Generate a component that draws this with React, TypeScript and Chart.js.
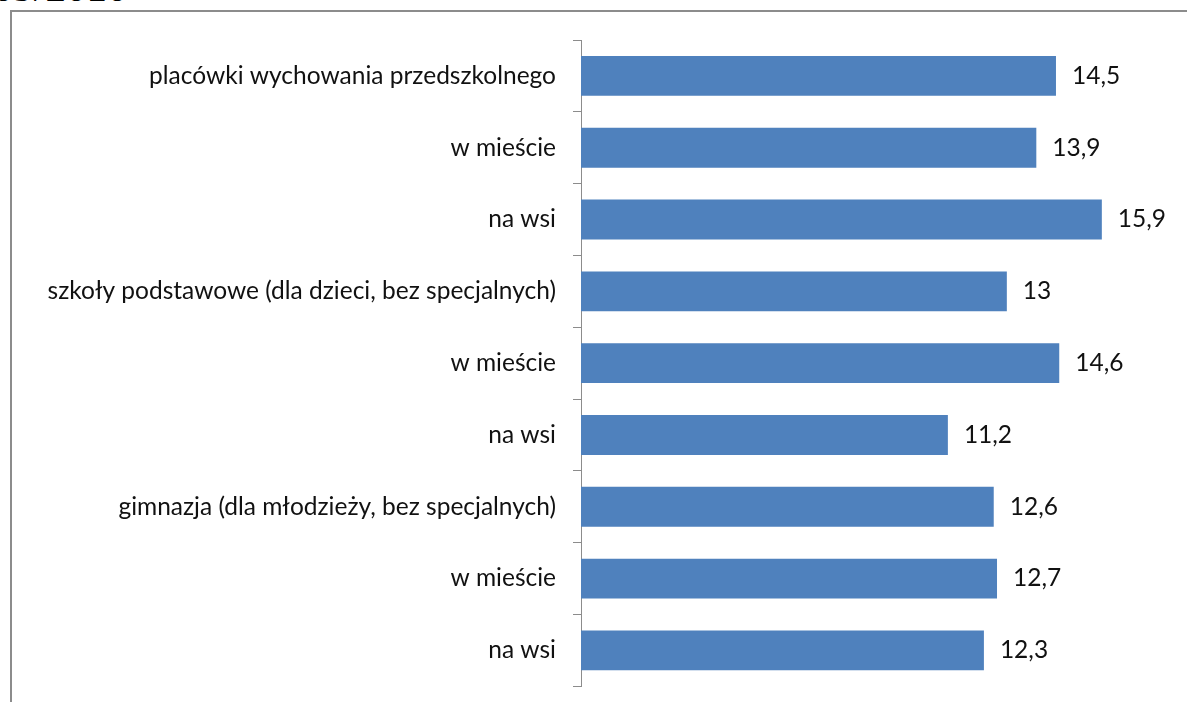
import React, { useEffect, useRef } from "react";
import { Chart, registerables } from "chart.js";

Chart.register(...registerables);

const categories: string[] = [
  "placówki wychowania przedszkolnego",
  "w mieście",
  "na wsi",
  "szkoły podstawowe (dla dzieci, bez specjalnych)",
  "w mieście",
  "na wsi",
  "gimnazja (dla młodzieży, bez specjalnych)",
  "w mieście",
  "na wsi",
];

const values: number[] = [14.5, 13.9, 15.9, 13, 14.6, 11.2, 12.6, 12.7, 12.3];

const headerText = "2009/2010";

const FONT_FAMILY = "Lato, 'Open Sans', sans-serif";
const FONT_SIZE = 24.5;

const formatValue = (v: number) => String(v).replace(".", ",");

const valueLabelPlugin = {
  id: "valueLabels",
  afterDatasetsDraw(chart: any) {
    const ctx = chart.ctx;
    const meta = chart.getDatasetMeta(0);
    ctx.save();
    ctx.font = `${FONT_SIZE}px ${FONT_FAMILY}`;
    ctx.fillStyle = "#111";
    ctx.textAlign = "left";
    ctx.textBaseline = "middle";
    meta.data.forEach((bar: any, i: number) => {
      ctx.fillText(formatValue(values[i]), bar.x + 16, bar.y);
    });
    ctx.restore();
  },
};

export default function App() {
  const canvasRef = useRef<HTMLCanvasElement | null>(null);

  useEffect(() => {
    if (!canvasRef.current) return;
    const chart = new Chart(canvasRef.current, {
      type: "bar",
      data: {
        labels: categories,
        datasets: [
          {
            data: values,
            backgroundColor: "#4F81BD",
            borderWidth: 0,
            categoryPercentage: 1,
            barPercentage: 0.555,
          },
        ],
      },
      options: {
        indexAxis: "y",
        animation: false,
        responsive: false,
        maintainAspectRatio: false,
        layout: { padding: { top: 40, bottom: 14, left: 0, right: 0 } },
        plugins: {
          legend: { display: false },
          tooltip: { enabled: false },
          title: { display: false },
        },
        scales: {
          x: {
            display: false,
            min: 0,
            max: 18.5,
          },
          y: {
            afterFit: (scale: any) => {
              scale.width = 581;
            },
            grid: {
              display: true,
              drawOnChartArea: false,
              drawTicks: true,
              tickLength: 8,
              color: "#8c8c8c",
              offset: true,
            },
            border: { display: true, color: "#8c8c8c", width: 1 },
            ticks: {
              padding: 17,
              color: "#111",
              font: { family: FONT_FAMILY, size: FONT_SIZE },
            },
          },
        },
      },
      plugins: [valueLabelPlugin],
    });
    return () => chart.destroy();
  }, []);

  return (
    <div
      style={{
        position: "fixed",
        left: 0,
        top: 0,
        width: 1187,
        height: 702,
        overflow: "hidden",
        background: "#fff",
      }}
    >
      <div
        style={{
          position: "absolute",
          left: -48,
          top: -33,
          fontFamily: "'Liberation Serif', serif",
          fontSize: 41,
          lineHeight: "41px",
          color: "#000",
          whiteSpace: "nowrap",
        }}
      >
        {headerText}
      </div>
      <div
        style={{
          position: "absolute",
          left: 10,
          top: 10,
          width: 1300,
          height: 800,
          border: "2px solid #8c8c8c",
          boxSizing: "border-box",
        }}
      />
      <canvas
        ref={canvasRef}
        width={1187}
        height={718}
        style={{ position: "absolute", left: 0, top: 0, width: 1187, height: 718 }}
      />
    </div>
  );
}
